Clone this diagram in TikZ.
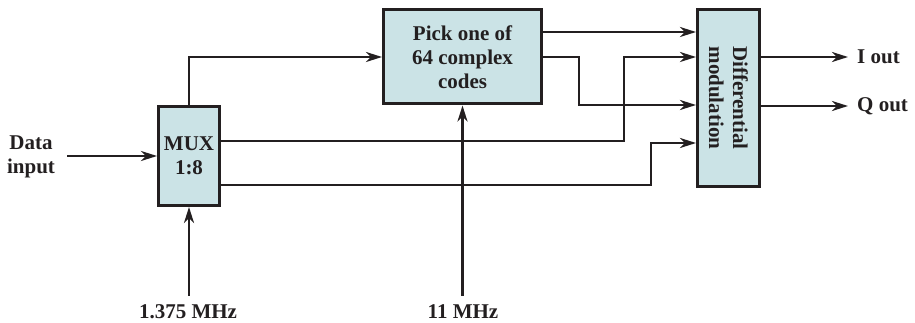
\documentclass[tikz,border=0pt]{standalone}
\usepackage{fontspec}
\setmainfont{Liberation Serif}
\usepackage{xcolor}
\usepackage{tikz}
\usetikzlibrary{arrows.meta, positioning, calc}

\definecolor{boxfill}{RGB}{203,227,230}
\definecolor{ink}{RGB}{35,31,32}

\begin{document}
\begin{tikzpicture}[x=1pt, y=-1pt,
		font=\fontsize{21}{24}\selectfont\bfseries,
		blk/.style={draw=ink, line width=3pt, fill=boxfill, text=ink, align=center, inner sep=0pt},
		lbl/.style={text=ink, align=center, inner sep=2pt},
		sig/.style={draw=ink, line width=2.6pt, -{Stealth[length=16pt, width=10pt, inset=5pt]}}]
		\useasboundingbox (0,0) rectangle (915,323);
		
		% Blocks
		\node[blk, minimum width=61pt, minimum height=99pt] (mux) at (189,156) {MUX\\1:8};
		\node[blk, minimum width=158pt, minimum height=94pt] (pick) at (462.5,57) {Pick one of\\64 complex\\codes};
		\node[blk, minimum width=62pt, minimum height=177pt] (diff) at (728.5,98) {};
		\node[lbl, rotate=-90] (difftxt) at (diff.center) {Differential\\modulation};
		
		% Labels
		\node[lbl] (datain) at (31,157) {Data\\input};
		\node[lbl] (clka) at (188,312) {1.375 MHz};
		\node[lbl] (clkb) at (463,312) {11 MHz};
		\node[lbl, anchor=west, inner xsep=9pt] (iout) at (848,57) {I out};
		\node[lbl, anchor=west, inner xsep=9pt] (qout) at (848,106) {Q out};
		
		% Signals
		\draw[sig, shorten <=10pt] (datain.east |- mux.west) -- (mux.west);
		\draw[sig] (mux.north) |- (pick.west);
		\draw[sig] (pick.east |- 0,32) -- (diff.west |- 0,32);
		\draw[sig] (pick.east |- 0,57) -| (579,105) -- (diff.west |- 0,105);
		\draw[sig] (mux.east |- 0,141) -| (624,57) -- (diff.west |- 0,57);
		\draw[sig] (mux.east |- 0,185) -| (651,143) -- (diff.west |- 0,143);
		\draw[sig] (diff.east |- iout.west) -- (iout.west);
		\draw[sig] (diff.east |- qout.west) -- (qout.west);
		
		% Clocks
		\draw[sig, shorten <=7pt] (clka.north -| mux.south) -- (mux.south);
		\draw[sig, shorten <=7pt] (clkb.north -| pick.south) -- (pick.south);
	\end{tikzpicture}
\end{document}
